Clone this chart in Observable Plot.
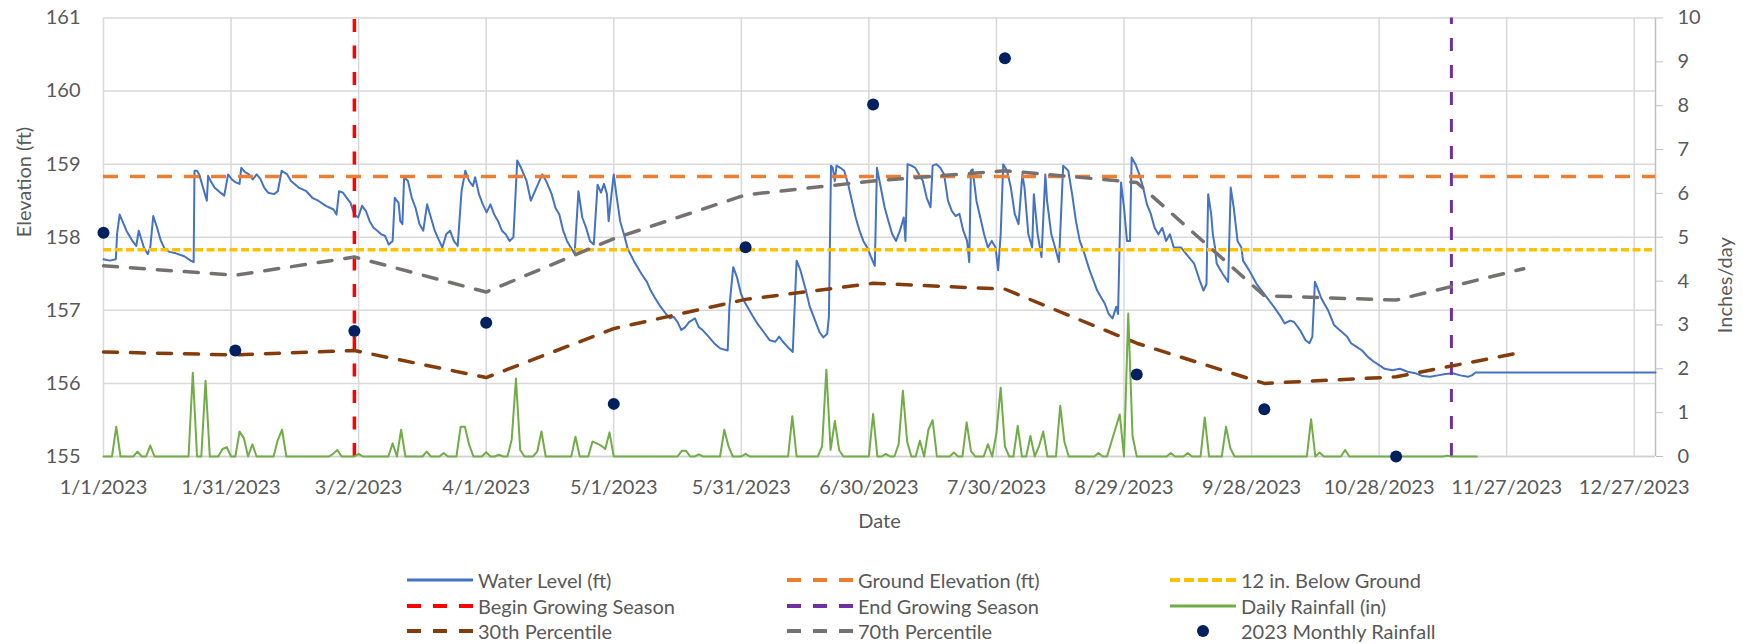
<!DOCTYPE html>
<html>
<head>
<meta charset="utf-8">
<script src="https://cdn.jsdelivr.net/npm/d3@7"></script>
<script src="https://cdn.jsdelivr.net/npm/@observablehq/plot@0.6"></script>
<style>
  html, body { margin: 0; padding: 0; background: #fff; }
  #chart { width: 1743px; }
  #legend { position: relative; width: 1743px; height: 84px; font-family: Lato, "Open Sans", sans-serif; font-size: 20px; color: #595959; }
  .item { position: absolute; height: 26px; display: flex; align-items: center; white-space: nowrap; }
  .item svg { margin-right: 5px; }
</style>
</head>
<body>
<div id="chart"></div>
<div id="legend"></div>
<script>
// ---------------- DATA ----------------
// x tick labels (every 30 days)
const xTickLabels = ["1/1/2023","1/31/2023","3/2/2023","4/1/2023","5/1/2023","5/31/2023","6/30/2023","7/30/2023","8/29/2023","9/28/2023","10/28/2023","11/27/2023","12/27/2023"];
const elevTicks = [155, 156, 157, 158, 159, 160, 161];
const rainTicks = [0, 1, 2, 3, 4, 5, 6, 7, 8, 9, 10];

// Water level (ft): [day of year offset from 1/1/2023, elevation]
const waterLevel = [[0,157.70],[1.5,157.68],[2.9,157.70],[3.2,158.05],[3.8,158.31],[5.4,158.09],[6.8,157.95],[7.7,157.88],[8.3,158.09],[9.5,157.86],[10.4,157.77],[11.0,157.86],[11.7,158.29],[12.6,158.13],[13.5,157.95],[14.4,157.84],[15.5,157.80],[17.0,157.78],[19.0,157.74],[20.5,157.68],[21.2,157.66],[21.4,158.91],[22.0,158.91],[22.5,158.86],[23.4,158.68],[24.3,158.50],[24.6,158.84],[25.2,158.77],[26.1,158.68],[27.5,158.61],[28.4,158.57],[29.3,158.86],[30.2,158.79],[31.1,158.75],[32.0,158.73],[32.4,158.95],[33.3,158.89],[34.2,158.86],[35.1,158.79],[36.0,158.86],[36.9,158.80],[37.8,158.68],[38.7,158.61],[40.1,158.59],[41.0,158.63],[41.9,158.91],[43.2,158.86],[44.1,158.77],[45.9,158.68],[47.7,158.63],[49.1,158.54],[50.5,158.50],[52.3,158.43],[54.1,158.38],[54.8,158.31],[55.4,158.63],[56.3,158.61],[57.2,158.54],[58.1,158.47],[59.0,158.31],[59.9,158.27],[60.8,158.43],[61.7,158.36],[62.6,158.22],[63.5,158.13],[64.4,158.09],[65.3,158.04],[66.2,158.02],[67.1,157.90],[68.0,157.95],[68.5,158.54],[69.4,158.47],[69.8,158.22],[70.3,158.18],[70.7,158.82],[71.6,158.77],[72.5,158.54],[73.4,158.40],[74.3,158.18],[75.2,158.09],[76.1,158.45],[77.0,158.27],[77.9,158.09],[78.8,157.97],[79.7,157.86],[80.6,158.04],[81.5,158.09],[82.4,157.95],[83.3,157.88],[84.2,158.63],[85.1,158.91],[86.0,158.77],[86.9,158.70],[87.4,158.82],[88.3,158.59],[89.2,158.45],[90.1,158.34],[91.0,158.45],[91.9,158.31],[92.8,158.22],[93.7,158.09],[94.6,158.04],[95.5,157.95],[96.4,158.00],[97.3,159.05],[98.2,158.95],[99.5,158.77],[100.5,158.50],[101.4,158.62],[103.2,158.86],[104.1,158.77],[105.4,158.59],[106.3,158.40],[107.2,158.31],[108.1,158.09],[109.0,157.95],[109.9,157.86],[110.8,157.77],[111.7,158.63],[112.6,158.27],[113.5,158.13],[114.4,157.95],[115.3,157.90],[116.2,158.72],[117.0,158.61],[117.7,158.73],[118.4,158.59],[118.8,158.22],[119.3,158.50],[120.0,158.86],[120.6,158.59],[121.5,158.22],[122.4,158.04],[123.3,157.84],[124.7,157.68],[126.5,157.50],[127.8,157.39],[128.7,157.27],[129.6,157.18],[131.0,157.05],[132.3,156.95],[133.2,156.89],[134.1,156.91],[135.0,156.84],[135.9,156.73],[136.8,156.77],[137.7,156.84],[139.1,156.89],[140.0,156.77],[140.9,156.73],[142.3,156.64],[143.6,156.55],[145.0,156.48],[146.8,156.45],[147.2,157.05],[148.1,157.59],[149.0,157.45],[149.9,157.23],[150.8,157.11],[151.7,157.02],[152.6,156.93],[154.0,156.80],[155.3,156.70],[156.7,156.59],[158.0,156.57],[158.9,156.64],[159.8,156.57],[161.2,156.48],[162.1,156.43],[163.0,157.68],[163.9,157.55],[165.2,157.27],[166.1,157.05],[167.5,156.84],[168.4,156.70],[169.3,156.63],[170.2,156.68],[170.6,156.91],[171.1,158.98],[171.5,158.95],[172.0,158.77],[172.4,158.98],[173.3,158.95],[174.2,158.91],[175.1,158.73],[176.0,158.50],[176.9,158.27],[177.8,158.09],[178.7,157.95],[179.6,157.86],[180.5,157.73],[181.4,157.61],[181.9,158.95],[182.8,158.68],[183.7,158.41],[184.6,158.22],[185.5,158.04],[186.4,157.95],[187.3,158.09],[188.2,158.27],[188.6,157.95],[189.1,159.00],[190.0,158.98],[190.9,158.95],[191.8,158.86],[192.7,158.77],[193.6,158.54],[194.5,158.41],[195.0,158.98],[195.9,159.00],[196.8,158.95],[197.7,158.86],[198.6,158.50],[199.5,158.36],[200.4,158.29],[201.3,158.32],[202.2,158.09],[203.1,157.95],[203.6,157.66],[204.0,158.91],[204.4,158.93],[205.3,158.50],[206.2,158.27],[207.1,158.04],[208.0,157.86],[208.9,157.95],[209.8,157.86],[210.4,157.55],[211.0,158.04],[211.6,159.00],[212.5,158.91],[213.4,158.68],[214.3,158.32],[215.2,158.18],[216.1,158.86],[216.6,158.68],[217.5,158.04],[218.4,157.86],[218.8,158.59],[219.7,158.04],[220.6,157.73],[221.5,158.86],[221.9,158.50],[222.9,158.04],[223.8,157.86],[224.7,157.66],[225.7,158.98],[226.9,158.91],[227.8,158.59],[228.7,158.22],[229.6,157.95],[230.5,157.81],[231.9,157.55],[232.8,157.41],[233.7,157.27],[234.6,157.18],[235.5,157.09],[236.4,156.95],[237.3,156.89],[238.2,157.05],[238.6,156.95],[239.3,158.75],[240.0,158.41],[240.7,157.95],[241.4,157.95],[241.8,159.09],[242.7,159.00],[243.6,158.86],[244.5,158.68],[245.4,158.45],[246.3,158.32],[247.2,158.13],[248.1,158.04],[249.0,158.13],[249.9,157.95],[250.8,158.04],[251.7,157.86],[253.4,157.86],[255.2,157.73],[256.5,157.64],[257.8,157.41],[258.7,157.27],[259.4,157.36],[259.8,158.59],[260.5,158.32],[260.9,158.04],[261.4,157.86],[261.8,157.64],[263.2,157.50],[264.5,157.39],[265.1,158.68],[265.8,158.41],[266.7,157.95],[267.6,157.86],[268.0,157.68],[269.4,157.55],[271.2,157.36],[272.9,157.23],[273.8,157.16],[275.6,157.02],[276.9,156.91],[277.8,156.82],[279.1,156.86],[280.0,156.84],[281.4,156.73],[282.7,156.59],[283.6,156.55],[284.3,156.64],[284.9,157.39],[285.4,157.32],[286.3,157.18],[287.1,157.09],[288.0,157.00],[289.4,156.80],[290.7,156.73],[292.5,156.64],[293.4,156.55],[294.7,156.50],[296.0,156.45],[297.4,156.36],[298.7,156.30],[300.0,156.25],[301.3,156.20],[303.1,156.18],[304.9,156.20],[306.7,156.16],[308.5,156.14],[310.2,156.10],[312.0,156.09],[313.8,156.11],[315.6,156.13],[317.3,156.14],[319.1,156.11],[320.9,156.09],[321.8,156.11],[322.7,156.15],[323.6,156.15],[365,156.15]];

// Daily rainfall (in/day): days with rain [day offset, inches]; all other days 0 through day 323
const rainfallDays = [[3,0.68],[8,0.11],[11,0.25],[21,1.91],[24,1.73],[28,0.17],[29,0.21],[32,0.57],[33,0.42],[35,0.28],[41,0.38],[42,0.61],[54,0.06],[55,0.15],[60,0.06],[68,0.30],[70,0.61],[76,0.11],[80,0.08],[84,0.68],[85,0.68],[86,0.27],[90,0.10],[93,0.04],[96,0.38],[97,1.78],[98,0.15],[102,0.11],[103,0.57],[111,0.45],[115,0.34],[116,0.30],[117,0.25],[118,0.17],[119,0.55],[136,0.13],[137,0.13],[140,0.05],[146,0.61],[147,0.23],[151,0.06],[162,0.92],[169,0.23],[170,1.98],[171,0.15],[172,0.81],[173,0.15],[181,0.97],[184,0.06],[187,0.28],[188,1.50],[189,0.34],[192,0.36],[194,0.61],[195,0.83],[200,0.09],[203,0.78],[204,0.13],[208,0.28],[210,0.53],[211,1.57],[212,0.23],[215,0.70],[218,0.47],[220,0.23],[221,0.57],[225,1.16],[226,0.33],[234,0.08],[237,0.32],[238,0.64],[239,0.96],[241,3.26],[242,0.48],[251,0.08],[255,0.08],[259,0.89],[264,0.68],[265,0.19],[284,0.85],[286,0.09],[292,0.15],[316,0.02]];
const rainfallLastDay = 323;

// Monthly percentiles (ft) at the first of each month
const monthStarts = ["2023-01-01","2023-02-01","2023-03-01","2023-04-01","2023-05-01","2023-06-01","2023-07-01","2023-08-01","2023-09-01","2023-10-01","2023-11-01","2023-12-01"];
const pct30 = [156.43,156.39,156.45,156.08,156.75,157.15,157.37,157.29,156.55,156.00,156.09,156.43];
const pct70 = [157.61,157.48,157.73,157.25,157.98,158.58,158.77,158.91,158.75,157.20,157.14,157.57];

// 2023 monthly rainfall (in), plotted at first of month (Jan..Nov)
const monthlyRain = [5.10,2.42,2.86,3.05,1.20,4.77,8.03,9.08,1.87,1.08,0.00];

const groundElevation = 158.83;
const belowGround12in = 157.83;
const beginGrowing = "2023-03-01";
const endGrowing = "2023-11-14";

// ---------------- HELPERS ----------------
const START = Date.UTC(2023, 0, 1);
const dayToDate = d => new Date(START + d * 864e5);
const parseMDY = s => { const [m, d, y] = s.split("/").map(Number); return new Date(Date.UTC(y, m - 1, d)); };
const xTicks = xTickLabels.map(parseMDY);
const tickLabelMap = new Map(xTicks.map((t, i) => [+t, xTickLabels[i]]));
const rainToFt = v => 155 + v * 0.6;   // secondary axis 0..10 maps onto 155..161

const wl = waterLevel.map(([d, v]) => ({date: dayToDate(d), v}));
const rainMap = new Map(rainfallDays);
const daily = d3.range(0, rainfallLastDay + 1).map(d => ({date: dayToDate(d), v: rainMap.get(d) ?? 0}));
const p30 = monthStarts.map((s, i) => ({date: new Date(s), v: pct30[i]}));
const p70 = monthStarts.map((s, i) => ({date: new Date(s), v: pct70[i]}));
const monthly = monthlyRain.map((v, i) => ({date: new Date(monthStarts[i]), v}));

const C = {
  water: "#4472C4", ground: "#ED7D31", below: "#FFC000", begin: "#FF0000",
  end: "#7030A0", rain: "#70AD47", p30: "#843C0C", p70: "#767171", monthly: "#002060"
};
const TXT = "#595959";

const chart = Plot.plot({
  width: 1743,
  height: 560,
  marginLeft: 103,
  marginRight: 88,
  marginTop: 17.5,
  marginBottom: 104,
  x: {type: "utc", domain: [new Date("2023-01-01"), new Date("2024-01-01")]},
  y: {domain: [155, 161]},
  style: {fontFamily: "Lato, 'Open Sans', sans-serif", fontSize: "20px", color: TXT, background: "white"},
  marks: [
    Plot.gridY(elevTicks, {stroke: "#d9d9d9", strokeOpacity: 1, strokeWidth: 1.5}),
    Plot.gridX(xTicks, {stroke: "#d9d9d9", strokeOpacity: 1, strokeWidth: 1.5}),
    Plot.ruleY([155], {stroke: "#d0d0d0", strokeWidth: 1.5}),
    Plot.ruleX([new Date("2024-01-01")], {stroke: "#bfbfbf", strokeWidth: 1.5}),
    Plot.axisY(elevTicks, {anchor: "left", tickSize: 0, tickPadding: 23, fontSize: 20, fill: TXT, tickFormat: d => String(d), label: null}),
    Plot.axisY(rainTicks.map(rainToFt), {anchor: "right", tickSize: 7, tickPadding: 15, fontSize: 20, stroke: "#bfbfbf", fill: TXT,
      tickFormat: d => String(Math.round((d - 155) / 0.6)), label: null}),
    Plot.axisX(xTicks, {tickSize: 0, tickPadding: 23, fontSize: 20, fill: TXT, tickFormat: d => tickLabelMap.get(+d), label: null}),
    Plot.text(["Date"], {frameAnchor: "bottom", dy: 71, fontSize: 20, fill: TXT, text: d => d}),
    Plot.text(["Elevation (ft)"], {frameAnchor: "left", dx: -79, rotate: -90, fontSize: 20, fill: TXT, text: d => d}),
    Plot.text(["Inches/day"], {frameAnchor: "right", dx: 70, rotate: -90, fontSize: 20, fill: TXT, text: d => d}),

    Plot.line(wl, {x: "date", y: "v", stroke: C.water, strokeWidth: 2}),
    Plot.ruleY([groundElevation], {stroke: C.ground, strokeWidth: 3.5, strokeDasharray: "15,12"}),
    Plot.ruleY([belowGround12in], {stroke: C.below, strokeWidth: 3.5, strokeDasharray: "8,3.5"}),
    Plot.ruleX([new Date(beginGrowing)], {y1: 155, y2: 161, stroke: C.begin, strokeWidth: 3.5, strokeDasharray: "13,13.5"}),
    Plot.ruleX([new Date(endGrowing)], {y1: 155, y2: 161, stroke: C.end, strokeWidth: 3, strokeDasharray: "13,14"}),
    Plot.line(p30, {x: "date", y: "v", stroke: C.p30, strokeWidth: 3.5, strokeDasharray: "14,13"}),
    Plot.line(p70, {x: "date", y: "v", stroke: C.p70, strokeWidth: 3.5, strokeDasharray: "14,13"}),
    Plot.line(daily, {x: "date", y: d => rainToFt(d.v), stroke: C.rain, strokeWidth: 2}),
    Plot.dot(monthly, {x: "date", y: d => rainToFt(d.v), r: 6, fill: C.monthly, stroke: null})
  ]
});
document.getElementById("chart").appendChild(chart);

// ---------------- LEGEND ----------------
const legendItems = [
  {label: "Water Level (ft)", color: C.water, dash: null, w: 3},
  {label: "Ground Elevation (ft)", color: C.ground, dash: "14,12", w: 4},
  {label: "12 in. Below Ground", color: C.below, dash: "10,4", w: 4},
  {label: "Begin Growing Season", color: C.begin, dash: "14,12", w: 4},
  {label: "End Growing Season", color: C.end, dash: "14,12", w: 4},
  {label: "Daily Rainfall (in)", color: C.rain, dash: null, w: 3},
  {label: "30th Percentile", color: C.p30, dash: "14,12", w: 4},
  {label: "70th Percentile", color: C.p70, dash: "14,12", w: 4},
  {label: "2023 Monthly Rainfall", color: C.monthly, dot: true}
];
const colX = [407, 787, 1170];
const rowY = [20, 46, 71];
const legend = d3.select("#legend");
legendItems.forEach((it, i) => {
  const col = i % 3, row = Math.floor(i / 3);
  const div = legend.append("div").attr("class", "item")
    .style("left", colX[col] + "px").style("top", (rowY[row] - 13) + "px");
  const svg = div.append("svg").attr("width", 66).attr("height", 16);
  if (it.dot) {
    svg.append("circle").attr("cx", 33).attr("cy", 8).attr("r", 6).attr("fill", it.color);
  } else {
    svg.append("line").attr("x1", 0).attr("x2", 66).attr("y1", 8).attr("y2", 8)
      .attr("stroke", it.color).attr("stroke-width", it.w)
      .attr("stroke-dasharray", it.dash);
  }
  div.append("span").text(it.label);
});
</script>
</body>
</html>
